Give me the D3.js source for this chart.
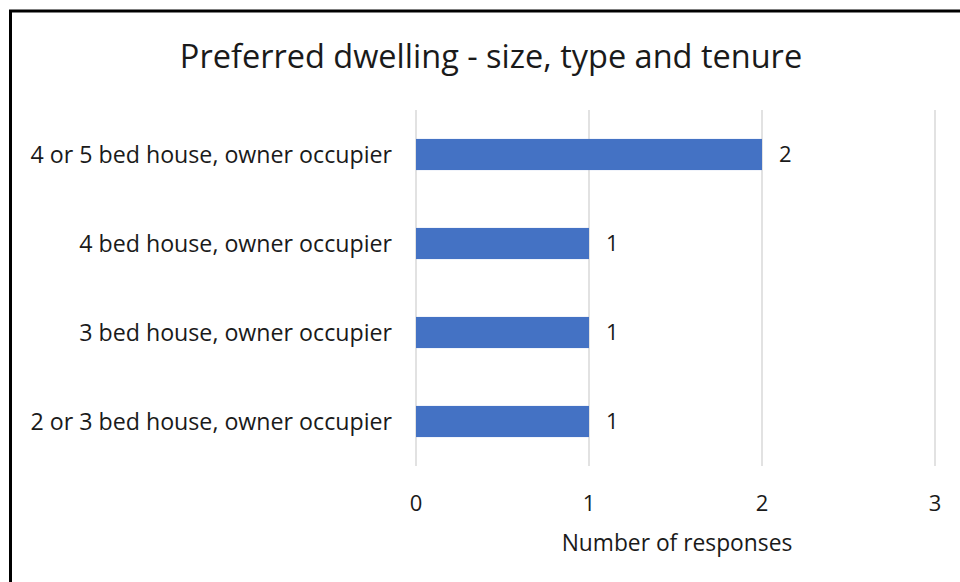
<!DOCTYPE html>
<html>
<head>
<meta charset="utf-8">
<script src="https://cdn.jsdelivr.net/npm/d3@7"></script>
<style>
  body { margin: 0; background: #fff; }
  svg text { font-family: "Open Sans", "Noto Sans", sans-serif; fill: #1a1a1a; }
</style>
</head>
<body>
<div id="chart"></div>
<script>
// chart data
const categories = [
    "4 or 5 bed house, owner occupier",
    "4 bed house, owner occupier",
    "3 bed house, owner occupier",
    "2 or 3 bed house, owner occupier"
];
const responses = [2, 1, 1, 1];
const xTicks = [0, 1, 2, 3];
const chartTitle = "Preferred dwelling - size, type and tenure";
const xAxisTitle = "Number of responses";

const width = 960;
const height = 582;
const margin = { top: 110, right: 25, bottom: 116, left: 416 };

const svg = d3.select("#chart").append("svg")
    .attr("width", width)
    .attr("height", height);

// outer frame, runs off the right and bottom edges
svg.append("rect")
    .attr("x", 10.5)
    .attr("y", 11)
    .attr("width", 1000)
    .attr("height", 1000)
    .attr("fill", "none")
    .attr("stroke", "#000")
    .attr("stroke-width", 3);

const x = d3.scaleLinear()
    .domain([0, 3])
    .range([margin.left, margin.left + 3 * 173]);

const y = d3.scaleBand()
    .domain(categories)
    .range([margin.top, height - margin.bottom])
    .paddingInner(0.65)
    .paddingOuter(0.325);

// gridlines
svg.append("g")
    .selectAll("line")
    .data(xTicks)
    .join("line")
    .attr("x1", d => x(d))
    .attr("x2", d => x(d))
    .attr("y1", margin.top)
    .attr("y2", height - margin.bottom)
    .attr("stroke", "#d9d9d9")
    .attr("stroke-width", 1.5);

// bars
svg.append("g")
    .selectAll("rect")
    .data(responses)
    .join("rect")
    .attr("x", x(0))
    .attr("y", (d, i) => y(categories[i]))
    .attr("width", d => x(d) - x(0))
    .attr("height", y.bandwidth())
    .attr("fill", "#4472c4");

// value labels
svg.append("g")
    .selectAll("text")
    .data(responses)
    .join("text")
    .attr("x", d => x(d) + 17)
    .attr("y", (d, i) => y(categories[i]) + y.bandwidth() / 2)
    .attr("dy", "0.35em")
    .attr("font-size", 22)
    .text(d => d);

// category labels
svg.append("g")
    .selectAll("text")
    .data(categories)
    .join("text")
    .attr("x", margin.left - 24)
    .attr("y", d => y(d) + y.bandwidth() / 2)
    .attr("dy", "0.35em")
    .attr("text-anchor", "end")
    .attr("font-size", 23.2)
    .text(d => d);

// x tick labels
svg.append("g")
    .selectAll("text")
    .data(xTicks)
    .join("text")
    .attr("x", d => x(d))
    .attr("y", 503)
    .attr("dy", "0.35em")
    .attr("text-anchor", "middle")
    .attr("font-size", 22)
    .text(d => d);

svg.append("text")
    .attr("x", 677)
    .attr("y", 543)
    .attr("dy", "0.35em")
    .attr("text-anchor", "middle")
    .attr("font-size", 22.8)
    .text(xAxisTitle);

svg.append("text")
    .attr("x", 491)
    .attr("y", 57)
    .attr("dy", "0.35em")
    .attr("text-anchor", "middle")
    .attr("font-size", 32.5)
    .text(chartTitle);
</script>
</body>
</html>
